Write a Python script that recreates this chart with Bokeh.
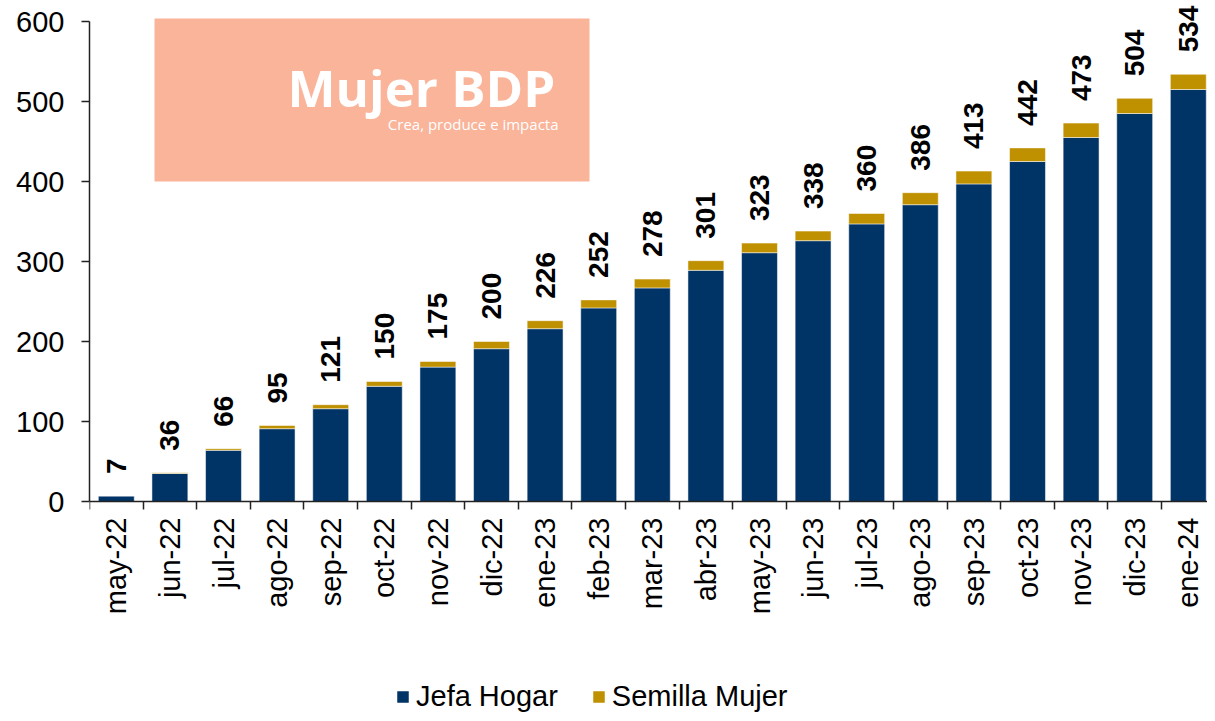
import math
from bokeh.plotting import figure
from bokeh.models import ColumnDataSource, FixedTicker, Range1d, BoxAnnotation, Label
from bokeh.core.properties import value
from bokeh.embed import file_html
from bokeh.resources import INLINE

months = ["may-22", "jun-22", "jul-22", "ago-22", "sep-22", "oct-22", "nov-22",
          "dic-22", "ene-23", "feb-23", "mar-23", "abr-23", "may-23", "jun-23",
          "jul-23", "ago-23", "sep-23", "oct-23", "nov-23", "dic-23", "ene-24"]
jefa_hogar = [7, 35, 64, 91, 116, 144, 168, 191, 216, 242, 267, 289, 311, 326,
              347, 371, 397, 425, 455, 485, 515]
semilla_mujer = [0, 1, 2, 4, 5, 6, 7, 9, 10, 10, 11, 12, 12, 12,
                 13, 15, 16, 17, 18, 19, 19]
totals = [7, 36, 66, 95, 121, 150, 175, 200, 226, 252, 278, 301, 323, 338,
          360, 386, 413, 442, 473, 504, 534]
y_ticks = [0, 100, 200, 300, 400, 500, 600]

NAVY = "#003366"
GOLD = "#BF9000"
AXIS = "#222222"
FONT = "Liberation Sans"

xs = list(range(len(months)))
src = ColumnDataSource(dict(x=xs, jefa=jefa_hogar, semilla=semilla_mujer,
                            total=totals, label=[str(t) for t in totals]))

W, H = 1207, 713
LEFT = 89
ZERO_Y = 501                    # pixel row of y=0
CAT = 53.6                      # px per category
PXU = 0.8                       # px per unit on y
frame_w = W - LEFT

def xd(px):
    return (px - LEFT) / CAT - 0.5

def yd(py):
    return (ZERO_Y - py) / PXU

p = figure(width=W, height=H, output_backend="svg", toolbar_location=None,
           x_range=Range1d(-0.5, -0.5 + frame_w / CAT),
           y_range=Range1d(-(H - ZERO_Y) / PXU, ZERO_Y / PXU),
           min_border_left=LEFT, min_border_right=0, min_border_top=0,
           min_border_bottom=0)
p.outline_line_color = None
p.xgrid.grid_line_color = None
p.ygrid.grid_line_color = None

p.vbar_stack(["jefa", "semilla"], x="x", width=0.67, source=src,
             fill_color=[NAVY, GOLD], line_color="white", line_alpha=0.5,
             line_width=1, legend_label=["Jefa Hogar", "Semilla Mujer"])

p.text(x="x", y="total", text="label", source=src, angle=math.pi / 2,
       text_align="left", text_baseline="middle", y_offset=-22,
       text_font=value(FONT), text_font_size="28px", text_font_style="bold",
       text_color="black")

# x axis drawn at y = 0 inside the frame
xa = p.xaxis[0]
xa.fixed_location = 0
xa.ticker = FixedTicker(ticks=xs, minor_ticks=[i - 0.5 for i in range(len(months) + 1)])
xa.major_label_overrides = {i: m for i, m in enumerate(months)}
xa.major_label_orientation = math.pi / 2
xa.major_tick_line_color = None
xa.major_tick_out = 8
xa.major_tick_in = 0
xa.minor_tick_out = 8
xa.minor_tick_in = 0
xa.minor_tick_line_color = AXIS
xa.minor_tick_line_width = 1.5
xa.axis_line_color = AXIS
xa.axis_line_width = 1.5
xa.major_label_standoff = 8
xa.major_label_text_font = FONT
xa.major_label_text_font_size = "29px"
xa.major_label_text_color = "black"

# y axis
ya = p.yaxis[0]
ya.ticker = FixedTicker(ticks=y_ticks)
ya.bounds = (0, 600)
ya.major_tick_out = 8
ya.major_tick_in = 0
ya.major_tick_line_color = AXIS
ya.major_tick_line_width = 1.5
ya.minor_tick_line_color = None
ya.axis_line_color = AXIS
ya.axis_line_width = 1.5
ya.major_label_standoff = 17
ya.major_label_text_font = FONT
ya.major_label_text_font_size = "29px"
ya.major_label_text_color = "black"

# logo box
logo = BoxAnnotation(left=xd(154), right=xd(589), bottom=yd(181), top=yd(18),
                     fill_color="#F9B49A", fill_alpha=1.0, line_color=None,
                     level="underlay")
p.add_layout(logo)
p.add_layout(Label(x=xd(287), y=518.0, text="Mujer BDP", text_font="Open Sans",
                   text_font_style="bold", text_font_size="51px",
                   text_color="white", text_baseline="alphabetic"))
p.add_layout(Label(x=xd(558), y=472.5, text="Crea, produce e impacta",
                   text_font="Open Sans", text_font_size="15px",
                   text_color="white", text_align="right",
                   text_baseline="alphabetic"))

# legend at the bottom of the frame
lg = p.legend[0]
lg.location = (395 - LEFT, 0)
lg.orientation = "horizontal"
lg.glyph_width = 15
lg.glyph_height = 15
lg.label_text_font = FONT
lg.label_text_font_size = "29px"
lg.label_text_color = "black"
lg.label_standoff = 6
lg.spacing = 33
lg.padding = 0
lg.margin = 0
lg.border_line_color = None
lg.background_fill_alpha = 0

open("out.html", "w").write(file_html(p, INLINE))
